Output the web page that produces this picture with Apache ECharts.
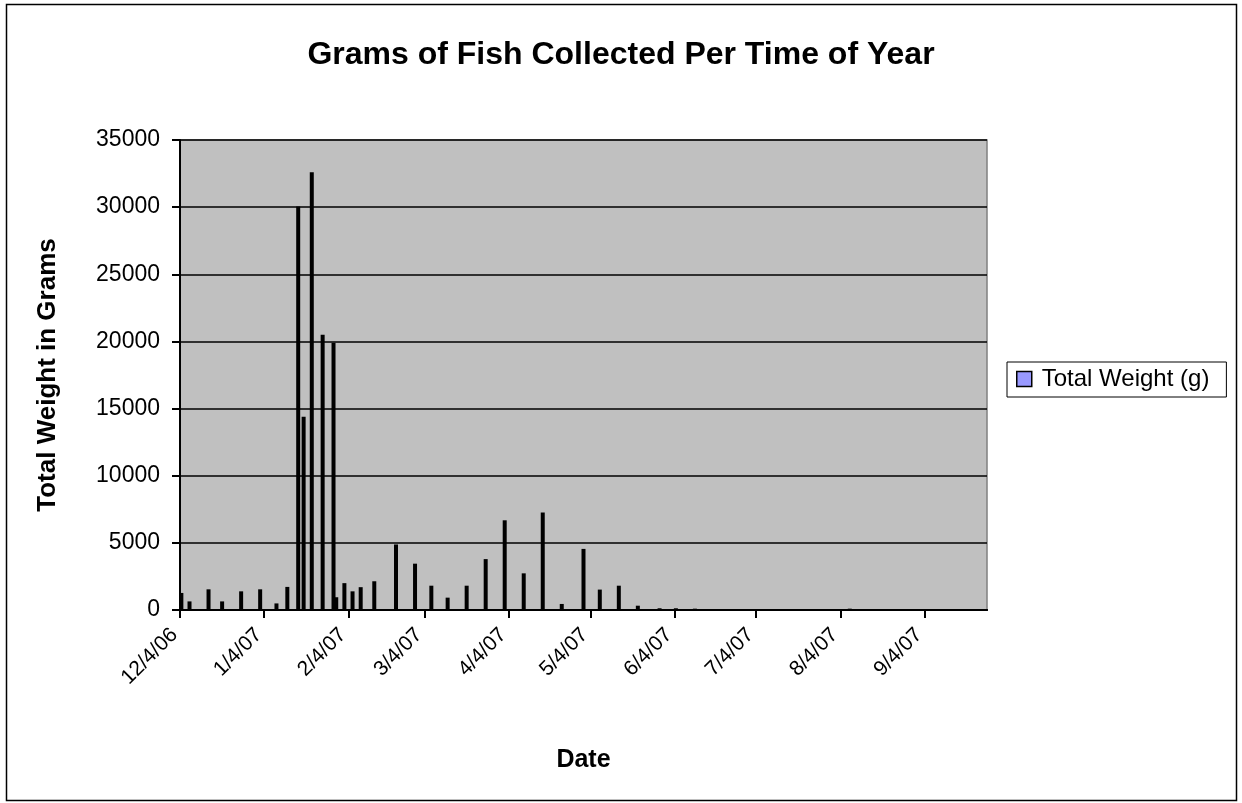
<!DOCTYPE html>
<html>
<head>
<meta charset="utf-8">
<script src="https://cdn.jsdelivr.net/npm/echarts@6/dist/echarts.min.js"></script>
<style>
html,body{margin:0;padding:0;background:#fff;}
#chart{width:1242px;height:803px;}
</style>
</head>
<body>
<div id="chart"></div>
<script>
// Sampling dates and total weights (g)
const sampleDates = [
  '12/4/06','12/7/06','12/14/06','12/19/06','12/26/06','1/2/07','1/8/07','1/12/07',
  '1/16/07','1/18/07','1/21/07','1/25/07','1/29/07','1/30/07','2/2/07','2/5/07',
  '2/8/07','2/13/07','2/21/07','2/28/07','3/6/07','3/12/07','3/19/07','3/26/07',
  '4/2/07','4/9/07','4/16/07','4/23/07','5/1/07','5/7/07','5/14/07','5/21/07',
  '5/29/07','6/4/07','6/11/07','8/7/07'
];
const totalWeight = [
  1270, 640, 1540, 640, 1390, 1540, 490, 1720,
  30050, 14400, 32600, 20500, 19900, 950, 2000, 1390,
  1700, 2140, 4880, 3450, 1810, 920, 1810, 3790,
  6680, 2730, 7260, 450, 4550, 1520, 1810, 320,
  130, 130, 100, 100
];
// Date axis range (one category per day)
const axisStart = [2006, 11, 4];
const axisEnd = [2007, 8, 26];
const yTicks = [0, 5000, 10000, 15000, 20000, 25000, 30000, 35000];

function fmt(d){
  return (d.getMonth()+1) + '/' + d.getDate() + '/' + String(d.getFullYear()).slice(2);
}
const days = [];
const dayEdges = [];
{
  const d = new Date(axisStart[0], axisStart[1], axisStart[2], 12);
  const end = new Date(axisEnd[0], axisEnd[1], axisEnd[2], 12);
  while (d <= end) { days.push(fmt(d)); dayEdges.push(fmt(d)); d.setDate(d.getDate()+1); }
  dayEdges.push('end');
}
const lookup = {};
sampleDates.forEach((s,i)=>{ lookup[s] = totalWeight[i]; });
const seriesData = days.map(s => (s in lookup ? lookup[s] : '-'));
const isMonthTick = (idx, val) => val.split('/')[1] === '4';

const chart = echarts.init(document.getElementById('chart'), null, {renderer:'canvas'});
const FONT = 'Liberation Sans, Arial, sans-serif';
chart.setOption({
  animation: false,
  backgroundColor: '#ffffff',
  textStyle: {fontFamily: FONT, color: '#000'},
  title: {
    text: 'Grams of Fish Collected Per Time of Year',
    left: 'center', top: 34,
    textStyle: {fontFamily: FONT, fontSize: 32, fontWeight: 'bold', color: '#000'}
  },
  legend: {
    left: 1007, top: 362,
    orient: 'vertical',
    borderColor: '#000', borderWidth: 1,
    padding: [5, 17, 6, 9],
    itemWidth: 15, itemHeight: 15, itemGap: 5,
    icon: 'rect',
    textStyle: {fontFamily: FONT, fontSize: 24, color: '#000', padding: [0, 0, 0, 5]},
    data: [{name: 'Total Weight (g)', itemStyle: {color: '#9999FF', borderColor: '#000', borderWidth: 1.5}}]
  },
  graphic: [{
    type: 'rect', silent: true, z: -1,
    shape: {x: 6.5, y: 4.5, width: 1230, height: 796},
    style: {fill: 'none', stroke: '#000', lineWidth: 1.5}
  }],
  grid: {
    left: 180, right: 255, top: 140, bottom: 193,
    show: true, backgroundColor: '#C0C0C0', borderColor: '#808080', borderWidth: 1.5
  },
  xAxis: [{
    type: 'category',
    data: days,
    boundaryGap: true,
    axisLine: {show: true, lineStyle: {color: '#000', width: 2}},
    axisTick: {show: false},
    axisLabel: {show: false},
    splitLine: {show: false}
  }, {
    type: 'category',
    position: 'bottom',
    data: dayEdges,
    boundaryGap: false,
    name: 'Date', nameLocation: 'middle', nameGap: 138,
    nameTextStyle: {fontFamily: FONT, fontSize: 25, fontWeight: 'bold', color: '#000'},
    axisLine: {show: true, lineStyle: {color: '#000', width: 2}},
    axisTick: {show: true, interval: isMonthTick, length: 8, lineStyle: {color: '#000', width: 2}},
    axisLabel: {interval: isMonthTick, rotate: 45, margin: 16, padding: [0, 8, 0, 0],
      fontFamily: FONT, fontSize: 21, color: '#000'},
    splitLine: {show: false}
  }],
  yAxis: {
    type: 'value',
    min: yTicks[0], max: yTicks[yTicks.length-1], interval: yTicks[1]-yTicks[0],
    name: 'Total Weight in Grams', nameLocation: 'middle', nameGap: 119,
    nameTextStyle: {fontFamily: FONT, fontSize: 26, fontWeight: 'bold', color: '#000'},
    axisLine: {show: true, lineStyle: {color: '#000', width: 2}},
    axisTick: {show: true, length: 8, lineStyle: {color: '#000', width: 2}},
    axisLabel: {margin: 20, fontFamily: FONT, fontSize: 23, color: '#000', formatter: v => String(v)},
    splitLine: {show: true, lineStyle: {color: '#000', width: 1.5}}
  },
  series: [{
    name: 'Total Weight (g)',
    type: 'bar',
    xAxisIndex: 0,
    data: seriesData,
    barWidth: 4,
    itemStyle: {color: '#000'}
  }]
});
</script>
</body>
</html>
